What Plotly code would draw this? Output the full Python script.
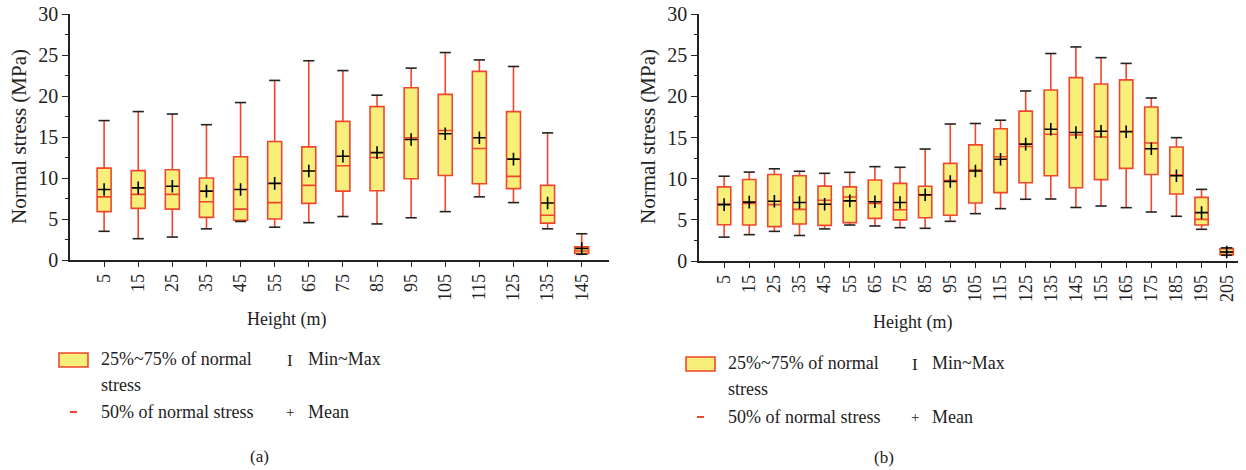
import plotly.graph_objects as go

# ---------------- data ----------------
heights_a = [5, 15, 25, 35, 45, 55, 65, 75, 85, 95, 105, 115, 125, 135, 145]
a_min  = [3.5, 2.6, 2.8, 3.8, 4.7, 4.0, 4.55, 5.3, 4.4, 5.15, 5.9, 7.7, 7.0, 3.8, 0.7]
a_q1   = [5.9, 6.3, 6.2, 5.2, 4.85, 5.0, 6.9, 8.4, 8.45, 9.9, 10.3, 9.3, 8.7, 4.5, 0.8]
a_med  = [7.7, 8.0, 8.0, 7.1, 6.2, 7.0, 9.1, 11.5, 12.5, 14.9, 15.8, 13.6, 10.2, 5.45, 1.1]
a_q3   = [11.2, 10.9, 11.0, 10.0, 12.6, 14.45, 13.8, 16.9, 18.7, 21.0, 20.2, 23.0, 18.1, 9.1, 1.6]
a_max  = [17.0, 18.1, 17.8, 16.5, 19.2, 21.9, 24.3, 23.1, 20.1, 23.4, 25.3, 24.4, 23.6, 15.5, 3.2]
a_mean = [8.6, 8.8, 9.0, 8.4, 8.6, 9.35, 10.85, 12.65, 13.1, 14.7, 15.4, 14.9, 12.3, 6.95, 1.4]

heights_b = [5, 15, 25, 35, 45, 55, 65, 75, 85, 95, 105, 115, 125, 135, 145, 155, 165, 175, 185, 195, 205]
b_min  = [2.9, 3.2, 3.6, 3.1, 3.9, 4.37, 4.25, 4.05, 3.97, 4.82, 5.75, 6.36, 7.5, 7.53, 6.5, 6.68, 6.48, 5.95, 5.43, 3.85, 0.7]
b_q1   = [4.4, 4.37, 4.17, 4.5, 4.33, 4.66, 5.18, 5.0, 5.26, 5.55, 7.04, 8.3, 9.5, 10.36, 8.9, 9.88, 11.25, 10.5, 8.14, 4.37, 0.77]
b_med  = [6.9, 7.0, 6.85, 6.27, 7.37, 7.77, 7.0, 6.23, 7.98, 9.76, 11.05, 12.67, 13.9, 15.4, 15.3, 15.06, 15.75, 14.33, 10.45, 5.06, 1.1]
b_q3   = [9.0, 9.9, 10.5, 10.36, 9.1, 9.0, 9.84, 9.43, 9.07, 11.86, 14.1, 16.07, 18.2, 20.77, 22.27, 21.5, 22.0, 18.7, 13.85, 7.73, 1.5]
b_max  = [10.3, 10.8, 11.2, 10.9, 10.65, 10.77, 11.46, 11.38, 13.6, 16.64, 16.7, 17.1, 20.65, 25.2, 26.0, 24.7, 24.0, 19.8, 14.98, 8.7, 1.6]
b_mean = [6.85, 7.15, 7.25, 7.1, 6.9, 7.3, 7.2, 7.1, 8.05, 9.65, 10.93, 12.35, 14.2, 16.0, 15.6, 15.75, 15.7, 13.64, 10.36, 5.87, 1.1]

y_ticks = [0, 5, 10, 15, 20, 25, 30]
legend_box_1 = "25%~75% of normal"
legend_box_2 = "stress"
legend_med = "50% of normal stress"
legend_rng = "Min~Max"
legend_mean = "Mean"

# ---------------- style ----------------
W, H = 1246, 470
FONT = "Liberation Serif, Times New Roman, serif"
RED = "#f0462c"
YEL = "#f7ef7a"
INK = "#222222"

fig = go.Figure()

def add_panel(xs, mn, q1, md, q3, mx, mean, xa, ya, bw):
    fig.add_trace(go.Box(
        x=xs, q1=q1, median=md, q3=q3, lowerfence=mn, upperfence=mx,
        width=bw, whiskerwidth=0, boxpoints=False,
        fillcolor=YEL, line=dict(color=RED, width=1.6),
        xaxis=xa, yaxis=ya, showlegend=False, hoverinfo="skip"))
    fig.add_trace(go.Scatter(
        x=xs + xs, y=mn + mx, mode="markers",
        marker=dict(symbol="line-ew", size=8, line=dict(color=INK, width=1.6)),
        xaxis=xa, yaxis=ya, showlegend=False, hoverinfo="skip"))
    fig.add_trace(go.Scatter(
        x=xs, y=mean, mode="markers",
        marker=dict(symbol="cross-thin", size=9, line=dict(color="black", width=1.6)),
        xaxis=xa, yaxis=ya, showlegend=False, hoverinfo="skip"))

add_panel(heights_a, a_min, a_q1, a_med, a_q3, a_max, a_mean, "x", "y", 4.1)
add_panel(heights_b, b_min, b_q1, b_med, b_q3, b_max, b_mean, "x2", "y2", 5.3)

def px(x):
    return x / W

def py(y):
    return 1 - y / H

xcommon = dict(
    showline=True, linecolor=INK, linewidth=1.5, ticks="outside", ticklen=5,
    tickcolor=INK, tickwidth=1.3, tickangle=-90, showgrid=False, zeroline=False,
    tickfont=dict(family=FONT, size=18, color=INK), mirror=False)
ycommon = dict(
    showline=True, linecolor=INK, linewidth=1.5, ticks="outside", ticklen=6,
    tickcolor=INK, tickwidth=1.3, showgrid=False, zeroline=False, range=[0, 30],
    tickvals=y_ticks, tickfont=dict(family=FONT, size=20, color=INK),
    minor=dict(ticks="outside", ticklen=3, dtick=2.5, tickcolor=INK, showgrid=False))

fig.update_layout(
    width=W, height=H,
    margin=dict(l=0, r=0, t=0, b=0, autoexpand=False),
    paper_bgcolor="white", plot_bgcolor="white",
    font=dict(family=FONT, color=INK),
    xaxis=dict(xcommon, domain=[px(70), px(609)], range=[-5, 153],
               tickvals=heights_a, ticktext=[str(h) for h in heights_a], anchor="y"),
    yaxis=dict(ycommon, domain=[py(260), py(14)], anchor="x"),
    xaxis2=dict(xcommon, domain=[px(699), px(1238)], range=[-5, 209.5],
                tickvals=heights_b, ticktext=[str(h) for h in heights_b], anchor="y2"),
    yaxis2=dict(ycommon, domain=[py(261), py(14)], anchor="x2"),
)

ann = []
shapes = []

def text(x, y, s, size=18, xanchor="left", angle=0):
    ann.append(dict(x=px(x), y=py(y), xref="paper", yref="paper", text=s,
                    showarrow=False, xanchor=xanchor, yanchor="middle", textangle=angle,
                    font=dict(family=FONT, size=size, color=INK), align="left"))

panels = [
    dict(yt=(19, 137), xt=(286, 319), rect=(59, 353, 88, 367), tx=99, r1=359, r2=385, r3=412,
         dash=(70, 77), sx=290, lx=306, cap=("(a)", 259, 456)),
    dict(yt=(648, 137), xt=(912, 322), rect=(686, 357, 715, 371), tx=726, r1=363, r2=389, r3=417,
         dash=(697, 704), sx=915, lx=930, cap=("(b)", 884, 457)),
]
for p in panels:
    text(p["yt"][0], p["yt"][1], "Normal stress (MPa)", size=21, xanchor="center", angle=-90)
    text(p["xt"][0], p["xt"][1], "Height (m)", size=18, xanchor="center")
    x0, y0, x1, y1 = p["rect"]
    shapes.append(dict(type="rect", xref="paper", yref="paper", x0=px(x0), x1=px(x1),
                       y0=py(y1), y1=py(y0), fillcolor=YEL, line=dict(color=RED, width=1.6)))
    text(p["tx"], p["r1"], legend_box_1)
    text(p["tx"], p["r2"], legend_box_2)
    text(p["tx"], p["r3"], legend_med)
    shapes.append(dict(type="line", xref="paper", yref="paper", x0=px(p["dash"][0]),
                       x1=px(p["dash"][1]), y0=py(p["r3"]), y1=py(p["r3"]),
                       line=dict(color=RED, width=2)))
    text(p["sx"], p["r1"] + 1, "I", size=17, xanchor="center")
    text(p["lx"], p["r1"], legend_rng)
    text(p["sx"], p["r3"], "+", size=15, xanchor="center")
    text(p["lx"], p["r3"], legend_mean)
    text(p["cap"][1], p["cap"][2], p["cap"][0], size=17, xanchor="center")

fig.update_layout(annotations=ann, shapes=shapes)
fig.write_html("out.html", config={"displayModeBar": False},
               post_script="document.body.style.margin='0';document.body.style.padding='0';")
